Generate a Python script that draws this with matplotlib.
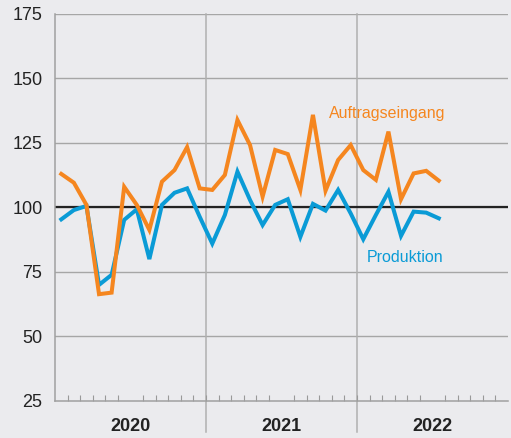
import numpy as np
import matplotlib.pyplot as plt

plt.rcParams['font.family'] = ['Liberation Sans', 'DejaVu Sans']

# monthly index values, Jan 2020 - Jul 2022
auftrag = [113, 109.6, 101, 66.4, 67, 108, 101, 91.3, 110, 114.5, 123.4, 107.4,
           106.8, 112.6, 133.9, 124.2, 104.2, 122.3, 120.7, 106.8, 135.9, 106.5, 118.4, 124.2,
           114.5, 110.7, 129.4, 103.2, 113.2, 114.2, 110.4]
produktion = [95.4, 99, 100.6, 70, 73.9, 95.2, 99.3, 80, 101, 105.7, 107.4, 96.4,
              86, 97.1, 113.9, 102.9, 93.2, 101, 103.2, 88.6, 101.4, 98.8, 106.8, 97.7,
              87.7, 97.1, 106.1, 89, 98.4, 98, 95.8]
years = ['2020', '2021', '2022']
yticks = [25, 50, 75, 100, 125, 150, 175]

bg = '#ebebee'
grid = '#a6a6a6'
orange = '#f5861f'
blue = '#0a9bd6'

fig = plt.figure(figsize=(5.11, 4.38), dpi=100, facecolor=bg)
ax = fig.add_axes([0.1076, 0.0845, 0.8865, 0.8836], facecolor=bg)

x = np.arange(len(auftrag)) + 0.5
for y in yticks[1:]:
    ax.axhline(y, color=grid, lw=1.0, zorder=1)
ax.axhline(100, color='#222222', lw=1.6, zorder=2)
for xv in [12, 24]:
    ax.axvline(xv, ymin=-0.08, ymax=1, color='#b0b0b0', lw=1.1, clip_on=False, zorder=1)

ax.plot(x, produktion, color=blue, lw=2.9, zorder=3, solid_joinstyle='miter')
ax.plot(x, auftrag, color=orange, lw=2.9, zorder=4, solid_joinstyle='miter')

ax.text(26.4, 136.6, 'Auftragseingang', color=orange, fontsize=11.5, ha='center', va='center')
ax.text(27.8, 80.8, 'Produktion', color=blue, fontsize=11.5, ha='center', va='center')

ax.set_xlim(0, 36)
ax.set_ylim(25, 175)
ax.set_yticks(yticks)
ax.set_yticklabels([str(v) for v in yticks], fontsize=13, color='#222222')
ax.tick_params(axis='y', length=0, pad=9)

ax.set_xticks([6, 18, 30])
ax.set_xticklabels(years, fontsize=13, fontweight='bold', color='#222222')
ax.set_xticks(np.arange(1, 36), minor=True)
ax.tick_params(axis='x', which='major', length=0, pad=12)
ax.tick_params(axis='x', which='minor', direction='in', length=4, color='#999999', width=0.8)

for s in ['top', 'right']:
    ax.spines[s].set_visible(False)
for s in ['left', 'bottom']:
    ax.spines[s].set_color('#a0a0a0')
    ax.spines[s].set_linewidth(1.1)

fig.savefig('out.png', dpi=100, facecolor=bg)
